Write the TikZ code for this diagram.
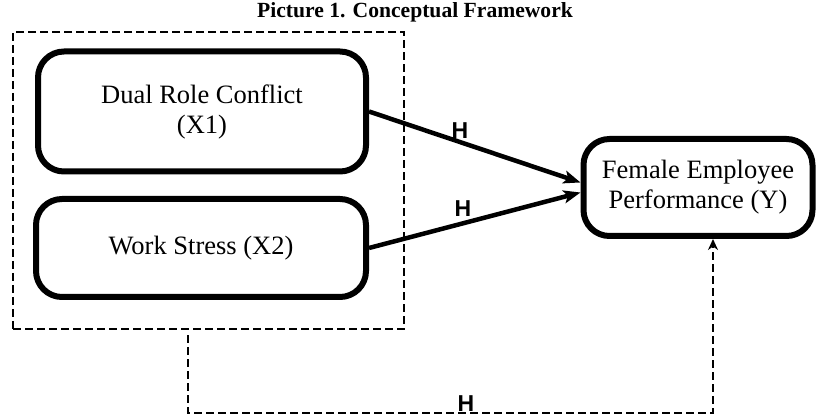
\documentclass[tikz,border=0pt]{standalone}
\usepackage{fontspec}
\setmainfont{Liberation Serif}
\newfontfamily\hfont{Liberation Sans}
\usetikzlibrary{arrows.meta}

\begin{document}
\begin{tikzpicture}[x=1pt, y=-1pt,
      varbox/.style={draw, line width=6pt, rounded corners=26pt, align=center,
        font=\fontsize{26.5}{30}\selectfont, inner sep=0pt},
      hyp/.style={font=\hfont\bfseries\fontsize{23}{23}\selectfont, inner sep=0pt},
      dline/.style={line width=2.6pt, dash pattern=on 8pt off 4pt},
      path/.style={line width=4.5pt, -{Stealth[length=17pt,width=13pt,inset=4pt]}}]
    \useasboundingbox (0,0) rectangle (820,419);
    \node[font=\bfseries\fontsize{21.6}{24}\selectfont] (title) at (415,12) {Picture 1. Conceptual Framework};
    \node[dline, draw, minimum width=391pt, minimum height=297pt, inner sep=0pt] (grp) at (208.5,180.5) {};
    \node[varbox, minimum width=328pt, minimum height=120pt] (x1) at (202,111.5) {Dual Role Conflict\\(X1)};
    \node[varbox, minimum width=330pt, minimum height=98pt] (x2) at (201,248) {Work Stress (X2)};
    \node[varbox, minimum width=229pt, minimum height=97pt] (y) at (698,187.5) {Female Employee\\Performance (Y)};
    \draw[path] (x1.east) -- ([yshift=5pt]y.west);
    \draw[path] (x2.east) -- ([yshift=-5pt]y.west);
    \node[hyp] (h1) at (460,131) {H};
    \node[hyp] (h2) at (463,209) {H};
    % simultaneous effect
    \coordinate (b1) at (188,413);
    \coordinate (b2) at (713,413);
    \draw[dline, -{Stealth[length=11pt,width=10pt]}] ([yshift=-5pt]grp.south -| b1) -- (b1) -- (b2) -- (b2 |- y.south);
    \node[hyp] (h3) at (466,404) {H};
\end{tikzpicture}
\end{document}
